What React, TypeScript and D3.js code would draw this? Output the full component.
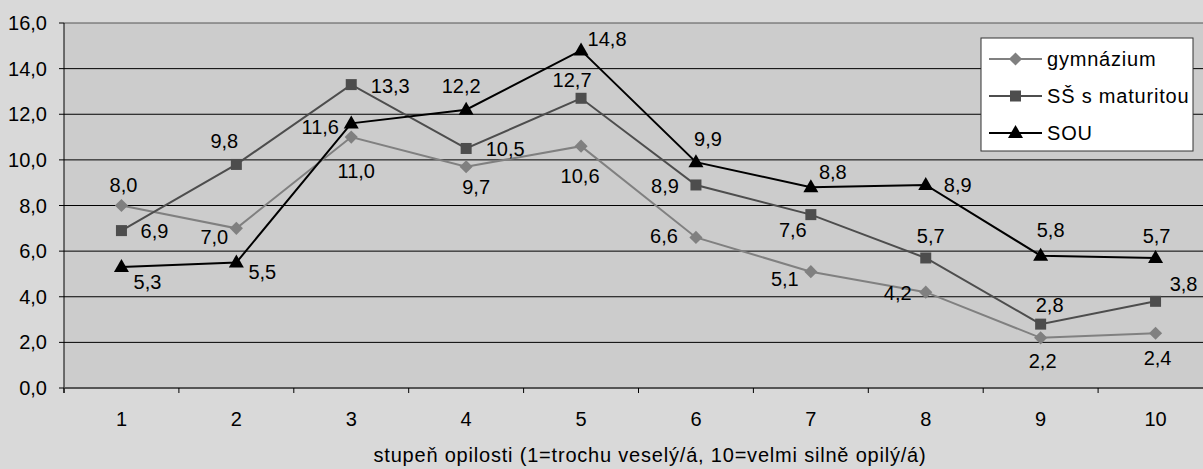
import React from "react";
import * as d3 from "d3";

const categories = ["1", "2", "3", "4", "5", "6", "7", "8", "9", "10"];
const gymnazium = [8.0, 7.0, 11.0, 9.7, 10.6, 6.6, 5.1, 4.2, 2.2, 2.4];
const ssMaturita = [6.9, 9.8, 13.3, 10.5, 12.7, 8.9, 7.6, 5.7, 2.8, 3.8];
const sou = [5.3, 5.5, 11.6, 12.2, 14.8, 9.9, 8.8, 8.9, 5.8, 5.7];
const yTicks = [0, 2, 4, 6, 8, 10, 12, 14, 16];
const seriesNames = ["gymnázium", "SŠ s maturitou", "SOU"];
const xTitle = "stupeň opilosti (1=trochu veselý/á, 10=velmi silně opilý/á)";

// label placement offsets (dx, dy) relative to the point, per series
const labelOffsets: [number, number][][] = [
  [[2, -21], [-22, 9], [5, 34], [10, 20], [-1, 30], [-32, -1], [-26, 7], [-28, 1], [2, 23], [2, 25]],
  [[33, 0], [-12, -23], [39, 1], [39, 1], [-9, -18], [-31, 1], [-18, 15], [5, -22], [9, -19], [28, -17]],
  [[26, 15], [26, 9], [-31, 4], [-5, -24], [26, -11], [12, -23], [22, -15], [32, 0], [10, -26], [1, -22]],
];

const W = 1203;
const H = 469;
const left = 64;
const right = 1213;
const top = 23;
const bottom = 388;

const colors = ["#808080", "#4d4d4d", "#000000"];
const fmt = (v: number) => d3.format(".1f")(v).replace(".", ",");
const FONT = "'Liberation Sans', Arial, Helvetica, sans-serif";

function Marker({ kind, x, y, color }: { kind: number; x: number; y: number; color: string }) {
  if (kind === 0) {
    const s = d3.symbol().type(d3.symbolDiamond2).size(110)();
    return <path d={s as string} transform={`translate(${x},${y})`} fill={color} />;
  }
  if (kind === 1) {
    return <rect x={x - 5.5} y={y - 5.5} width={11} height={11} fill={color} />;
  }
  const tri = `M${x},${y - 8}L${x + 7.5},${y + 5}L${x - 7.5},${y + 5}Z`;
  return <path d={tri} fill={color} />;
}

export default function App() {
  const x = d3.scaleBand<string>().domain(categories).range([left, right]);
  const y = d3.scaleLinear().domain([0, 16]).range([bottom, top]);
  const cx = (c: string) => (x(c) as number) + x.bandwidth() / 2;
  const series = [gymnazium, ssMaturita, sou];
  const line = d3
    .line<number>()
    .x((_, i) => cx(categories[i]))
    .y((d) => y(d));

  const boundaries = categories.map((c) => x(c) as number).concat([right]);

  const legX = 981;
  const legY = 38;
  const legRows = [59, 96, 133];

  return (
    <svg
      width={W}
      height={H}
      style={{ position: "absolute", left: 0, top: 0, fontFamily: FONT }}
    >
      <rect x={0} y={0} width={W} height={H} fill="#d9d9d9" />
      <rect x={left} y={top} width={right - left} height={bottom - top} fill="#cccccc" />
      {yTicks.map((t) => (
        <g key={t}>
          {t > 0 && (
            <line x1={left} x2={right} y1={y(t)} y2={y(t)} stroke={t === 16 ? "#555" : "#000"} strokeWidth={1} />
          )}
          <line x1={left - 5} x2={left} y1={y(t)} y2={y(t)} stroke="#000" strokeWidth={1} />
          <text x={47} y={y(t)} textAnchor="end" dominantBaseline="central" fontSize={20} fill="#000">
            {fmt(t)}
          </text>
        </g>
      ))}
      <line x1={left} x2={left} y1={top} y2={bottom + 5} stroke="#000" strokeWidth={1} />
      <line x1={left} x2={right} y1={bottom} y2={bottom} stroke="#555" strokeWidth={2} />
      {boundaries.map((b, i) => (
        <line key={i} x1={b} x2={b} y1={bottom} y2={bottom + 5} stroke="#000" strokeWidth={1} />
      ))}
      {categories.map((c) => (
        <text key={c} x={cx(c)} y={419} textAnchor="middle" dominantBaseline="central" fontSize={20} fill="#000">
          {c}
        </text>
      ))}
      <text x={650} y={455} textAnchor="middle" dominantBaseline="central" fontSize={20} letterSpacing={0.8} fill="#000">
        {xTitle}
      </text>

      {series.map((s, si) => (
        <g key={si}>
          <path d={line(s) as string} fill="none" stroke={colors[si]} strokeWidth={2} />
          {s.map((v, i) => (
            <Marker key={i} kind={si} x={cx(categories[i])} y={y(v)} color={colors[si]} />
          ))}
        </g>
      ))}
      {series.map((s, si) => (
        <g key={"l" + si}>
          {s.map((v, i) => (
            <text
              key={i}
              x={cx(categories[i]) + labelOffsets[si][i][0]}
              y={y(v) + labelOffsets[si][i][1]}
              textAnchor="middle"
              dominantBaseline="central"
              fontSize={20}
              fill="#000"
            >
              {fmt(v)}
            </text>
          ))}
        </g>
      ))}

      <rect x={legX} y={legY} width={212} height={113} fill="#ffffff" stroke="#333" strokeWidth={1} />
      {seriesNames.map((n, i) => (
        <g key={n}>
          <line x1={989} x2={1042} y1={legRows[i]} y2={legRows[i]} stroke={colors[i]} strokeWidth={2} />
          <Marker kind={i} x={1015.5} y={legRows[i]} color={colors[i]} />
          <text x={1047} y={legRows[i]} dominantBaseline="central" fontSize={20} letterSpacing={0.8} fill="#000">
            {n}
          </text>
        </g>
      ))}
    </svg>
  );
}
